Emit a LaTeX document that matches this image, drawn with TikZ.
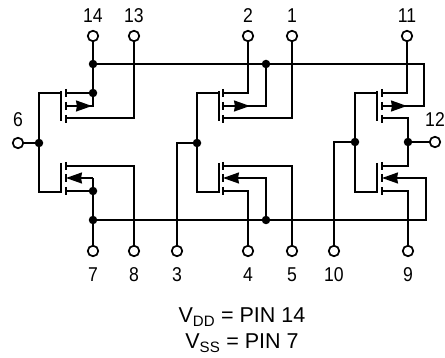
\documentclass[tikz,border=0pt]{standalone}
\usepackage{fontspec}
\setmainfont{Liberation Sans}
\newfontfamily\pinfont[FakeStretch=0.88]{Liberation Sans}
\usetikzlibrary{calc,arrows.meta}
\tikzset{
  wire/.style={line width=1.7pt},
  term/.style={circle, draw, line width=1.7pt, fill=white, inner sep=0pt, minimum size=10.5pt},
  jn/.style={circle, fill=black, inner sep=0pt, minimum size=8.5pt},
  tip/.style={line width=1.7pt, -{Stealth[length=16pt,width=11pt,inset=1pt]}},
  pinlabel/.style={inner sep=0pt, font=\pinfont\fontsize{20}{22}\selectfont},
  note/.style={anchor=base, inner sep=0pt, font=\fontsize{21.5}{24}\selectfont}
}

\begin{document}
\begin{tikzpicture}[x=1pt,y=-1pt]
\useasboundingbox (0,0) rectangle (445,358);

% pins
\node (p14) [term] at (93,36) {};
\node (p13) [term] at (134,36) {};
\node (p2) [term] at (248,36) {};
\node (p1) [term] at (292,36) {};
\node (p11) [term] at (407,36) {};
\node (p6) [term] at (18,143) {};
\node (p12) [term] at (435,142) {};
\node (p7) [term] at (93,251) {};
\node (p8) [term] at (134,251) {};
\node (p3) [term] at (177,251) {};
\node (p4) [term] at (248,251) {};
\node (p5) [term] at (292,251) {};
\node (p10) [term] at (334,251) {};
\node (p9) [term] at (408,251) {};

\node (l14) [pinlabel] at (p14) [yshift=20pt] {14};
\node (l13) [pinlabel] at (p13) [yshift=20pt] {13};
\node (l2) [pinlabel] at (p2) [yshift=20pt] {2};
\node (l1) [pinlabel] at (p1) [yshift=20pt] {1};
\node (l11) [pinlabel] at (p11) [yshift=20pt] {11};
\node (l6) [pinlabel] at (p6) [yshift=23pt] {6};
\node (l12) [pinlabel] at (p12) [yshift=22pt] {12};
\node (l7) [pinlabel] at (p7) [yshift=-24pt] {7};
\node (l8) [pinlabel] at (p8) [yshift=-24pt] {8};
\node (l3) [pinlabel] at (p3) [yshift=-24pt] {3};
\node (l4) [pinlabel] at (p4) [yshift=-24pt] {4};
\node (l5) [pinlabel] at (p5) [yshift=-24pt] {5};
\node (l10) [pinlabel] at (p10) [yshift=-24pt] {10};
\node (l9) [pinlabel] at (p9) [yshift=-24pt] {9};

% junctions
\node (jtop) [jn] at (93,64) {};
\node (jd1) [jn] at (93,93) {};
\node (jg1) [jn] at (39,143) {};
\node (js2) [jn] at (93,191) {};
\node (jbot) [jn] at (93,220) {};
\node (jtop2) [jn] at (266,64) {};
\node (jg2) [jn] at (197,143) {};
\node (jbot2) [jn] at (266,220) {};
\node (jg3) [jn] at (355,142) {};
\node (jo3) [jn] at (408,142) {};

% channel coordinates
\coordinate (q1) at (66,106);
\coordinate (q2) at (66,178);
\coordinate (q3) at (223,106);
\coordinate (q4) at (223,178);
\coordinate (q5) at (382,106);
\coordinate (q6) at (382,178);
\coordinate (rtop) at (424,64);
\coordinate (rbot) at (426,220);

% rails
\draw [wire] (jtop) -- (rtop) -- ($(q5) + (42,0)$) -- (q5);
\draw [wire] (jbot) -- (rbot) -- ($(q6) + (44,0)$) -- ($(q6) + (10,0)$);

% left pair
\draw [wire] (p14) -- (jtop) -- (jd1) -- ($(q1) + (27,0)$) -- ($(q1) + (20,0)$);
\draw [wire] (jd1) -- ($(q1) + (0,-13)$);
\draw [wire] (p13) -- ($(q1) + (68,12)$) -- ($(q1) + (0,12)$);
\draw [wire] ($(q1) + (-5,-13)$) -- ($(q1) + (-27,-13)$) -- (jg1) -- (p6);
\draw [wire] (jg1) -- ($(q2) + (-27,14)$) -- ($(q2) + (-5,14)$);
\draw [wire] (p8) -- ($(q2) + (68,-12)$) -- ($(q2) + (0,-12)$);
\draw [wire] (p7) -- (jbot) -- (js2) -- ($(q2) + (27,0)$);
\draw [wire] (js2) -- ($(q2) + (0,13)$);
\draw [tip] ($(q1) + (1,0)$) -- ($(q1) + (26,0)$);
\draw [tip] ($(q2) + (27,0)$) -- (q2);

% middle pair
\draw [wire] (p2) -- ($(q3) + (25,-13)$) -- ($(q3) + (0,-13)$);
\draw [wire] (jtop2) -- ($(q3) + (43,0)$) -- ($(q3) + (20,0)$);
\draw [wire] (p1) -- ($(q3) + (69,12)$) -- ($(q3) + (0,12)$);
\draw [wire] ($(q3) + (-4,-13)$) -- ($(q3) + (-26,-13)$) -- (jg2) -- ($(q4) + (-26,14)$) -- ($(q4) + (-4,14)$);
\draw [wire] (jg2) -- ($(p3) + (0,-108)$) -- (p3);
\draw [wire] (p5) -- ($(q4) + (69,-12)$) -- ($(q4) + (0,-12)$);
\draw [wire] (p4) -- ($(q4) + (25,13)$) -- ($(q4) + (0,13)$);
\draw [wire] (jbot2) -- ($(q4) + (43,0)$) -- ($(q4) + (10,0)$);
\draw [tip] ($(q3) + (1,0)$) -- ($(q3) + (27,0)$);
\draw [tip] ($(q4) + (20,0)$) -- (q4);

% right pair
\draw [wire] (p11) -- ($(q5) + (25,-13)$) -- ($(q5) + (0,-13)$);
\draw [wire] ($(q5) + (0,12)$) -- ($(q5) + (26,12)$) -- (jo3) -- ($(q6) + (26,-12)$) -- ($(q6) + (0,-12)$);
\draw [wire] (jo3) -- (p12);
\draw [wire] ($(q5) + (-5,-13)$) -- ($(q5) + (-27,-13)$) -- (jg3) -- ($(q6) + (-27,14)$) -- ($(q6) + (-5,14)$);
\draw [wire] (jg3) -- ($(p10) + (0,-109)$) -- (p10);
\draw [wire] (p9) -- ($(q6) + (26,13)$) -- ($(q6) + (0,13)$);
\draw [tip] ($(q5) + (1,0)$) -- ($(q5) + (25,0)$);
\draw [tip] ($(q6) + (20,0)$) -- (q6);

% gates and channels
\draw [wire] ($(q1) + (-5,-15)$) -- ++(0,30);
\draw [wire] ($(q2) + (-5,-15)$) -- ++(0,30);
\draw [wire] ($(q3) + (-4,-15)$) -- ++(0,30);
\draw [wire] ($(q4) + (-4,-15)$) -- ++(0,30);
\draw [wire] ($(q5) + (-5,-15)$) -- ++(0,30);
\draw [wire] ($(q6) + (-5,-15)$) -- ++(0,30);
\draw [wire] ($(q1) + (0,-17)$) -- ++(0,8) ($(q1) + (0,-4)$) -- ++(0,8) ($(q1) + (0,9)$) -- ++(0,8);
\draw [wire] ($(q2) + (0,-16)$) -- ++(0,8) ($(q2) + (0,-4)$) -- ++(0,8) ($(q2) + (0,9)$) -- ++(0,8);
\draw [wire] ($(q3) + (0,-17)$) -- ++(0,8) ($(q3) + (0,-4)$) -- ++(0,8) ($(q3) + (0,9)$) -- ++(0,8);
\draw [wire] ($(q4) + (0,-16)$) -- ++(0,8) ($(q4) + (0,-4)$) -- ++(0,8) ($(q4) + (0,9)$) -- ++(0,8);
\draw [wire] ($(q5) + (0,-17)$) -- ++(0,8) ($(q5) + (0,-4)$) -- ++(0,8) ($(q5) + (0,9)$) -- ++(0,8);
\draw [wire] ($(q6) + (0,-16)$) -- ++(0,8) ($(q6) + (0,-4)$) -- ++(0,8) ($(q6) + (0,9)$) -- ++(0,8);

% note
\node (vdd) [note] at (242,323) {V\textsubscript{DD} = PIN 14};
\node (vss) [note] at (242,349) {V\textsubscript{SS} = PIN 7};

\end{tikzpicture}
\end{document}
